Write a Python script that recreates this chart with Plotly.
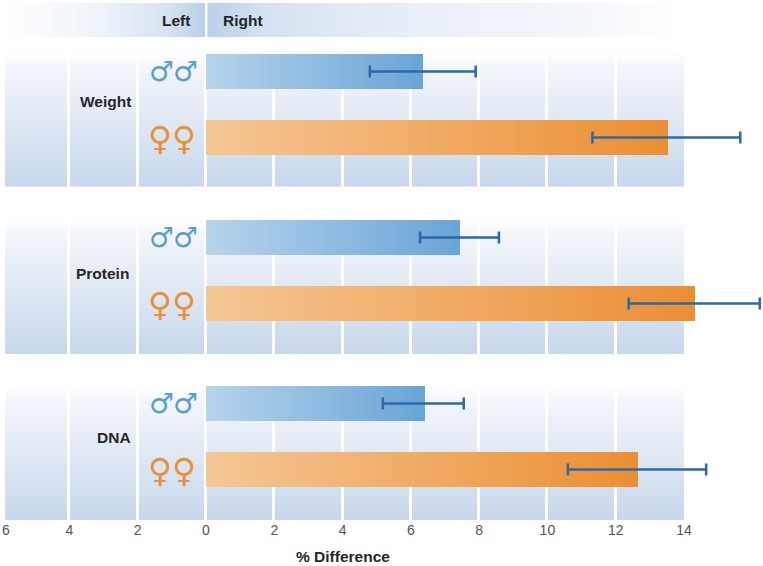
import numpy as np
import plotly.graph_objects as go

categories = ["Weight", "Protein", "DNA"]
male_values = [6.35, 7.44, 6.40]
male_low = [4.80, 6.27, 5.18]
male_high = [7.90, 8.58, 7.55]
female_values = [13.52, 14.32, 12.65]
female_low = [11.32, 12.38, 10.60]
female_high = [15.65, 16.22, 14.65]
tick_labels = ["6", "4", "2", "0", "2", "4", "6", "8", "10", "12", "14"]

# layout constants
PX = 34.14
X0 = 206.0
W, H, BOTTOM = 763, 566, 46
SPACING = 166.0
Y0 = 71.5
def xv(px): return (px - X0) / PX
def yv(px): return (px - Y0) / SPACING
FEMALE_OFF = 66.0 / SPACING
BAR_W = 35.0 / SPACING

BLUE_SCALE = [[0, "#ffffff"], [0.12, "#f3f6fb"], [0.5, "#e1e9f4"], [1, "#c6d8eb"]]
tick_x = [xv(6), -4, -2, 0, 2, 4, 6, 8, 10, 12, 14]
edges = [xv(4)] + tick_x[1:-1] + [xv(685.5)]

fig = go.Figure()

# header bands
hl = np.linspace(xv(4), xv(204.5), 60)
fig.add_trace(go.Heatmap(x=hl, y=[yv(3), yv(37)], z=[np.linspace(0, 1, 59).tolist()],
    colorscale=[[0, "#ffffff"], [0.45, "#f0f4fa"], [0.8, "#d8e4f2"], [1, "#b9d1e9"]],
    showscale=False, hoverinfo="skip"))
hr = np.linspace(xv(207.5), xv(680), 120)
fig.add_trace(go.Heatmap(x=hr, y=[yv(3), yv(37)], z=[np.linspace(0, 1, 119).tolist()],
    colorscale=[[0, "#b9d1e9"], [0.12, "#d6e2f1"], [0.4, "#e8eef7"], [0.75, "#f3f6fb"], [1, "#ffffff"]],
    showscale=False, hoverinfo="skip"))

# panels, separated by white gaps
panel_bottoms_px = [186.5, 354.0, 520.0]
for b in panel_bottoms_px:
    ye = np.linspace(yv(b - 136), yv(b), 69)
    z = np.tile(np.linspace(0, 1, 68)[:, None], (1, len(edges) - 1))
    fig.add_trace(go.Heatmap(x=edges, y=ye, z=z.tolist(), colorscale=BLUE_SCALE, zmin=0, zmax=1,
                             xgap=3, ygap=0, showscale=False, hoverinfo="skip"))

def gradient_bar(y, value, c0, c1):
    # nested rectangles all ending at the value; later ones paint over earlier ones
    n = int(round(value * PX / 2))
    c0 = np.array(c0, float); c1 = np.array(c1, float)
    t = np.linspace(0, 1, n)
    cols = ["rgb(%d,%d,%d)" % tuple(c0 + (c1 - c0) * v) for v in t]
    starts = [value * i / n for i in range(n)]
    fig.add_trace(go.Bar(orientation="h", y=[y] * n, x=[value - s for s in starts],
                         base=starts, width=BAR_W,
                         marker=dict(color=cols, line=dict(width=0)),
                         showlegend=False, hoverinfo="skip"))

for i in range(3):
    gradient_bar(i, male_values[i], (183, 212, 236), (106, 165, 215))
    gradient_bar(i + FEMALE_OFF, female_values[i], (246, 199, 150), (236, 143, 52))

# error bars
ys = [i for i in range(3)] + [i + FEMALE_OFF for i in range(3)]
vals = male_values + female_values
lows = male_low + female_low
highs = male_high + female_high
fig.add_trace(go.Scatter(x=vals, y=ys, mode="markers", marker=dict(size=1, opacity=0),
    error_x=dict(type="data", symmetric=False,
                 array=[h - v for h, v in zip(highs, vals)],
                 arrayminus=[v - l for l, v in zip(lows, vals)],
                 color="#2b69a8", thickness=2.5, width=6),
    showlegend=False, hoverinfo="skip"))

ann = []
def text(px, py, t, size=13, color="#262626", bold=True, font="Liberation Sans"):
    ann.append(dict(x=px / W, y=1 - py / (H - BOTTOM), xref="paper", yref="paper", text=("<b>%s</b>" % t) if bold else t,
                    showarrow=False, xanchor="center", yanchor="middle", borderpad=0,
                    font=dict(family=font, size=size, color=color)))

text(176, 21, "Left", 15.5)
text(243, 21, "Right", 15.5)
for name, px, py in zip(categories, [105, 103, 114], [102, 273, 437]):
    text(px, py, name, 15.5)
for i in range(3):
    py = Y0 + SPACING * i
    for cx in (161, 185):
        text(cx, py + 0, "♂", 28, "#5b9fd0", False, "DejaVu Sans")
    for cx in (160, 184):
        text(cx, py + 67, "♀", 33, "#e8913a", False, "DejaVu Sans")
text(343, 556.5, "% Difference", 15.5)

fig.update_layout(
    width=W, height=H, margin=dict(l=0, r=0, t=0, b=BOTTOM), autosize=False,
    paper_bgcolor="white", plot_bgcolor="white", barmode="overlay", showlegend=False,
    annotations=ann,
    xaxis=dict(range=[xv(0), xv(W)], showgrid=False, zeroline=False, showline=False, ticks="",
               tickmode="array", tickvals=tick_x, ticktext=tick_labels,
               tickfont=dict(family="Liberation Sans", size=14, color="#555555")),
    yaxis=dict(range=[yv(H - BOTTOM), yv(0)], visible=False, showgrid=False, zeroline=False),
)
fig.write_html("out.html", config={"displayModeBar": False},
               post_script="document.body.style.margin='0';document.body.style.overflow='hidden';")
